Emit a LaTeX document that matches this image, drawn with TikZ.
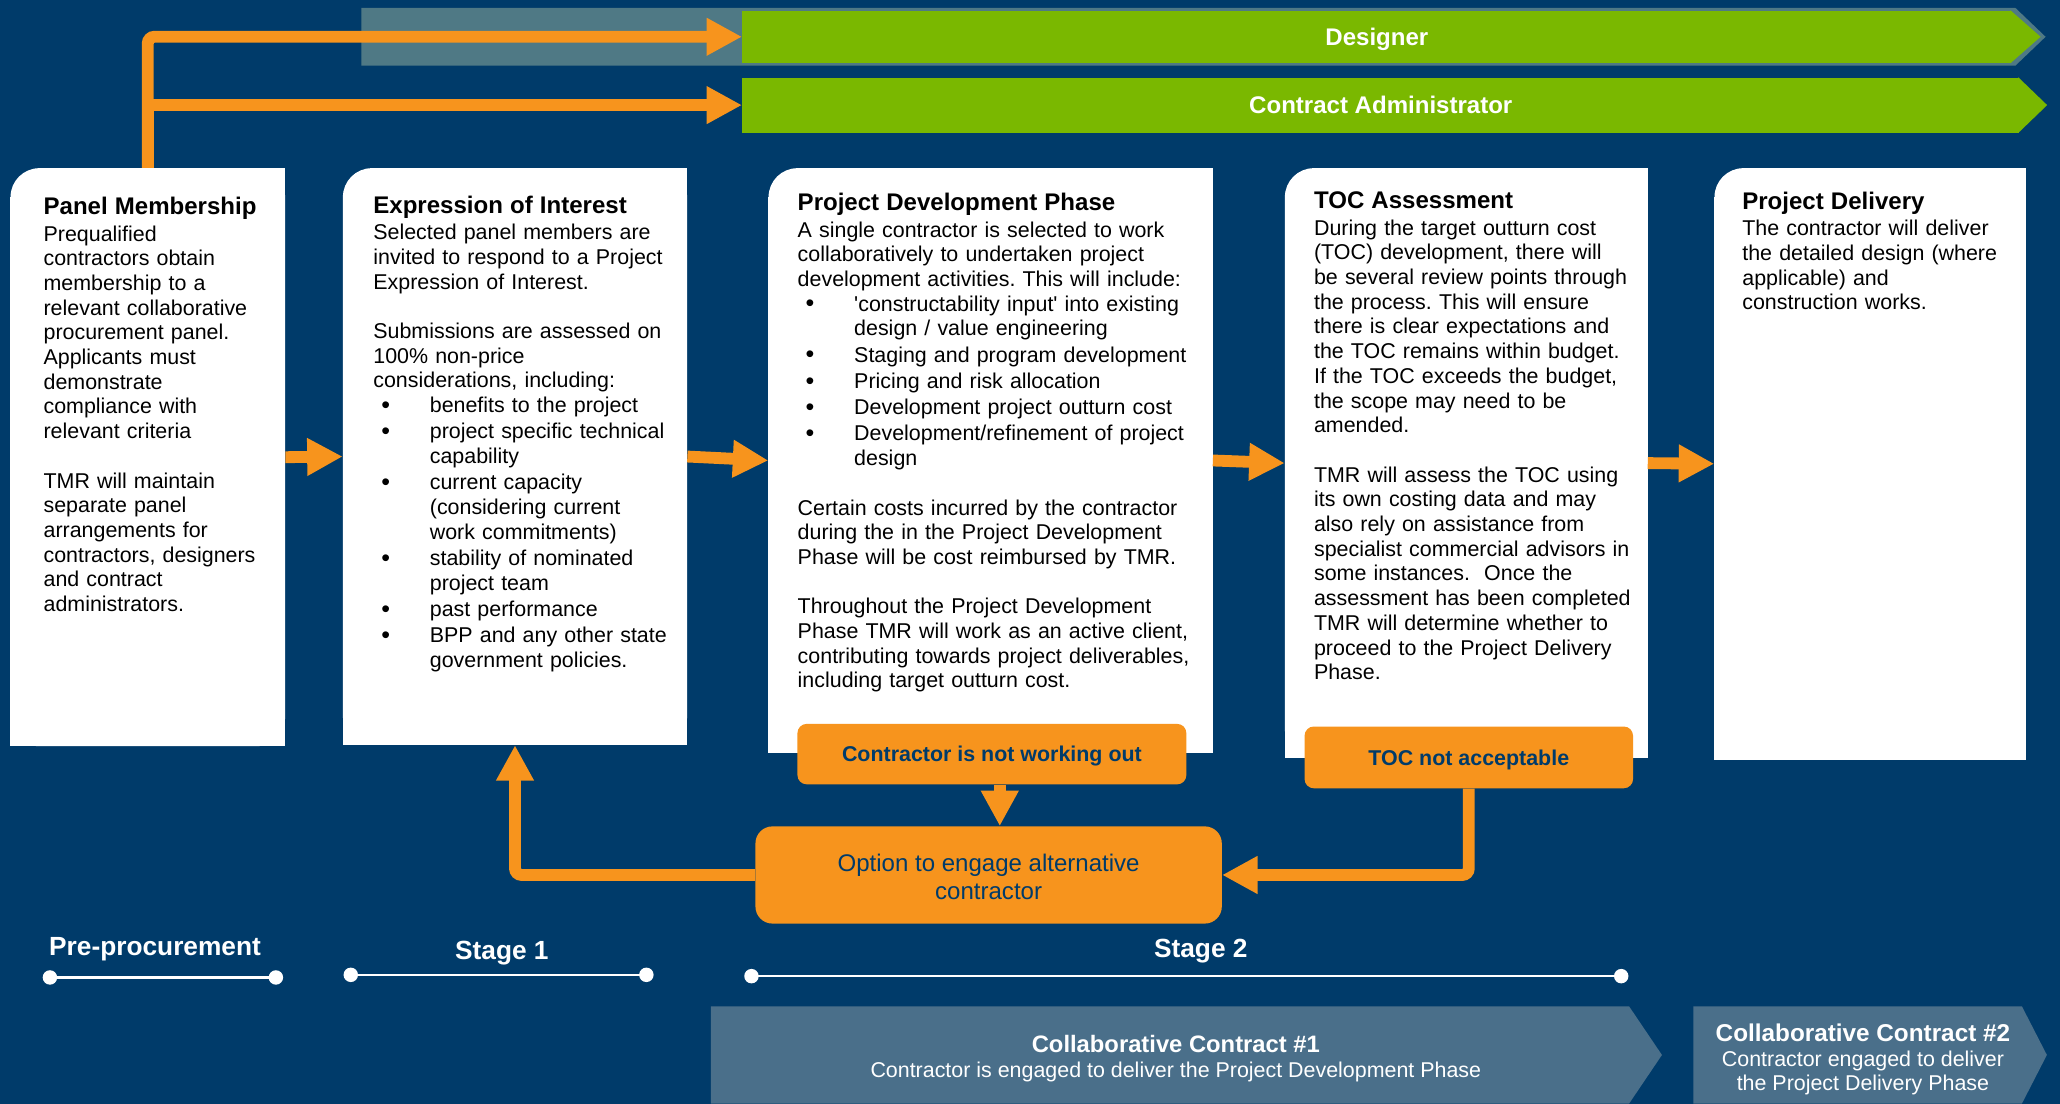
\documentclass[tikz,border=0pt]{standalone}
\usepackage{fontspec}
\setmainfont{Liberation Sans}
\usetikzlibrary{arrows.meta}

\definecolor{navy}{HTML}{003B6A}
\definecolor{tmrorange}{HTML}{F7941D}
\definecolor{leaf}{HTML}{7AB800}
\definecolor{slate}{HTML}{4F7985}
\definecolor{steel}{HTML}{4A6F8A}

\frenchspacing
\newcommand{\hd}[1]{{\bfseries\fontsize{18.3}{20}\selectfont #1\par}\vspace{1.2pt}}
\newcommand{\gap}{\par\vspace{18.8pt}}
\newcommand{\blt}{\raisebox{-0.6pt}{\fontsize{19}{19}\selectfont\textbullet}}
\newenvironment{blist}{\begin{list}{\hspace*{6pt}\blt\hfill}{%
  \setlength{\leftmargin}{43pt}\setlength{\labelwidth}{43pt}%
  \setlength{\labelsep}{0pt}\setlength{\itemsep}{1.2pt}%
  \setlength{\parsep}{0pt}\setlength{\topsep}{0pt}\setlength{\partopsep}{0pt}}}%
  {\end{list}}

\begin{document}
\begin{tikzpicture}[x=1pt,y=-1pt,
  card/.style={fill=white,rounded corners=22pt,inner sep=0},
  txt/.style={anchor=north west,inner sep=0,align=left,font=\fontsize{16.3}{18.8}\selectfont},
  bar/.style={fill=leaf,inner sep=0,text=white,text height=13.1pt,text depth=0pt,
    font=\bfseries\fontsize{18.3}{20}\selectfont},
  flag/.style={fill=tmrorange,rounded corners=7pt,inner sep=0,text=navy,text height=11.7pt,
    text depth=0pt,font=\bfseries\fontsize{16.3}{19}\selectfont},
  flow/.style={draw=tmrorange,line width=9pt,-{Triangle[length=27pt,width=27pt]}},
  stage/.style={text=white,text height=14.3pt,text depth=0pt,font=\bfseries\fontsize{20}{22}\selectfont},
  spanline/.style={draw=white,line width=2pt},
  deal/.style={text=white,align=center,inner sep=0,font=\fontsize{16.3}{19}\selectfont}]

\useasboundingbox (0,0) rectangle (1568,840);
\fill[navy] (0,0) rectangle (1568,840);

\fill[slate] (275,6) -- (1534,6) -- (1557,28) -- (1534,50) -- (275,50) -- cycle;
\node[bar,minimum width=966pt,minimum height=40pt] (designer) at (1048,28) {Designer};
\fill[leaf] ([xshift=-1pt]designer.north east) -- ([xshift=22pt]designer.east)
  -- ([xshift=-1pt]designer.south east) -- cycle;
\node[bar,minimum width=972pt,minimum height=42pt] (admin) at (1051,80) {Contract Administrator};
\fill[leaf] ([xshift=-1pt]admin.north east) -- ([xshift=21pt]admin.east)
  -- ([xshift=-1pt]admin.south east) -- cycle;

\node[card,minimum width=209pt,minimum height=440pt] (c1) at (112.5,348) {};
\node[card,minimum width=262pt,minimum height=439pt] (c2) at (392,347.5) {};
\node[card,minimum width=338pt,minimum height=445pt] (c3) at (754,350.5) {};
\node[card,minimum width=276pt,minimum height=449pt] (c4) at (1116,352.5) {};
\node[card,minimum width=237pt,minimum height=450pt] (c5) at (1423.5,353) {};
\foreach \c in {c1,c2,c3,c4,c5} {
  \fill[white] ([yshift=-22pt]\c.north west) rectangle (\c.south east);
  \fill[white] ([xshift=22pt]\c.north west) rectangle (\c.south east);
}

\node[txt,text width=184pt] (t1) at (33,150) {\hd{Panel Membership}
Prequalified\\ contractors obtain\\ membership to a\\ relevant collaborative\\ procurement panel.\\ Applicants must\\ demonstrate\\ compliance with\\ relevant criteria\gap
TMR will maintain\\ separate panel\\ arrangements for\\ contractors, designers\\ and contract\\ administrators.};

\node[txt,text width=239pt] (t2) at (284,149) {\hd{Expression of Interest}
Selected panel members are\\ invited to respond to a Project\\ Expression of Interest.\gap
Submissions are assessed on\\ 100\% non-price\\ considerations, including:
\begin{blist}
\item benefits to the project
\item project specific technical\\ capability
\item current capacity\\ (considering current\\ work commitments)
\item stability of nominated\\ project team
\item past performance
\item BPP and any other state\\ government policies.
\end{blist}};

\node[txt,text width=316pt] (t3) at (607,147) {\hd{Project Development Phase}
A single contractor is selected to work\\ collaboratively to undertaken project\\ development activities. This will include:
\begin{blist}
\item \textquotesingle constructability input\textquotesingle{} into existing\\ design / value engineering
\item Staging and program development
\item Pricing and risk allocation
\item Development project outturn cost
\item Development/refinement of project\\ design
\end{blist}\gap
Certain costs incurred by the contractor\\ during the in the Project Development\\ Phase will be cost reimbursed by TMR.\gap
Throughout the Project Development\\ Phase TMR will work as an active client,\\ contributing towards project deliverables,\\ including target outturn cost.};

\node[txt,text width=252pt] (t4) at (1000,146) {\hd{TOC Assessment}
During the target outturn cost\\ (TOC) development, there will\\ be several review points through\\ the process. This will ensure\\ there is clear expectations and\\ the TOC remains within budget.\\ If the TOC exceeds the budget,\\ the scope may need to be\\ amended.\gap
TMR will assess the TOC using\\ its own costing data and may\\ also rely on assistance from\\ specialist commercial advisors in\\ some instances.\ \ Once the\\ assessment has been completed\\ TMR will determine whether to\\ proceed to the Project Delivery\\ Phase.};

\node[txt,text width=214pt] (t5) at (1326,146) {\hd{Project Delivery}
The contractor will deliver\\ the detailed design (where\\ applicable) and\\ construction works.};

\node[flag,minimum width=296pt,minimum height=46pt] (notwork) at (755,574) {Contractor is not working out};
\node[flag,minimum width=250pt,minimum height=47pt] (tocno) at (1118,576.5) {TOC not acceptable};
\node[flag,rounded corners=13pt,minimum width=355pt,minimum height=74pt,align=center,
  text height=,text depth=,font=\fontsize{18.3}{21}\selectfont] (option) at (752.5,666)
  {\rule{0pt}{16pt}Option to engage alternative\\contractor};

\draw[flow,rounded corners=5pt] (c1.north) |- (designer.west);
\draw[flow] (c1.north) |- (admin.west);
\foreach \a/\b in {c1/c2,c2/c3,c3/c4,c4/c5}
  \draw[flow] (\a.east) -- (\b.west);
\draw[flow] ([xshift=6pt]notwork.south) -- ([xshift=6pt]notwork.south |- option.north);
\draw[flow,rounded corners=5pt] (tocno.south) |- (option.east);
\draw[flow,rounded corners=5pt] (option.west) -| (c2.south);

\node[stage] (pre) at (118,720) {Pre-procurement};
\node[stage] (st1) at (382,723) {Stage 1};
\node[stage] (st2) at (914,722) {Stage 2};
\coordinate (p0) at (38,744);
\coordinate (p1) at (210,744);
\coordinate (s0) at (267,742);
\coordinate (s1) at (492,742);
\coordinate (u0) at (572,743);
\coordinate (u1) at (1234,743);
\foreach \a/\b in {p0/p1,s0/s1,u0/u1} {
  \draw[spanline] (\a) -- (\b);
  \fill[white] (\a) circle (5.5pt) (\b) circle (5.5pt);
}

\fill[steel] (541,766) -- (1240,766) -- (1265,803) -- (1240,840) -- (541,840) -- cycle;
\fill[steel] (1289,766) -- (1539,766) -- (1558,803) -- (1539,840) -- (1289,840) -- cycle;
\node[deal] (cc1) at (895,806)
  {{\bfseries\fontsize{18.1}{20}\selectfont Collaborative Contract \#1}\\ Contractor is engaged to deliver the Project Development Phase};
\node[deal,font=\fontsize{16.3}{18.5}\selectfont] (cc2) at (1418,806.5)
  {{\bfseries\fontsize{18.5}{20}\selectfont Collaborative Contract \#2}\\ Contractor engaged to deliver\\ the Project Delivery Phase};
\end{tikzpicture}
\end{document}
